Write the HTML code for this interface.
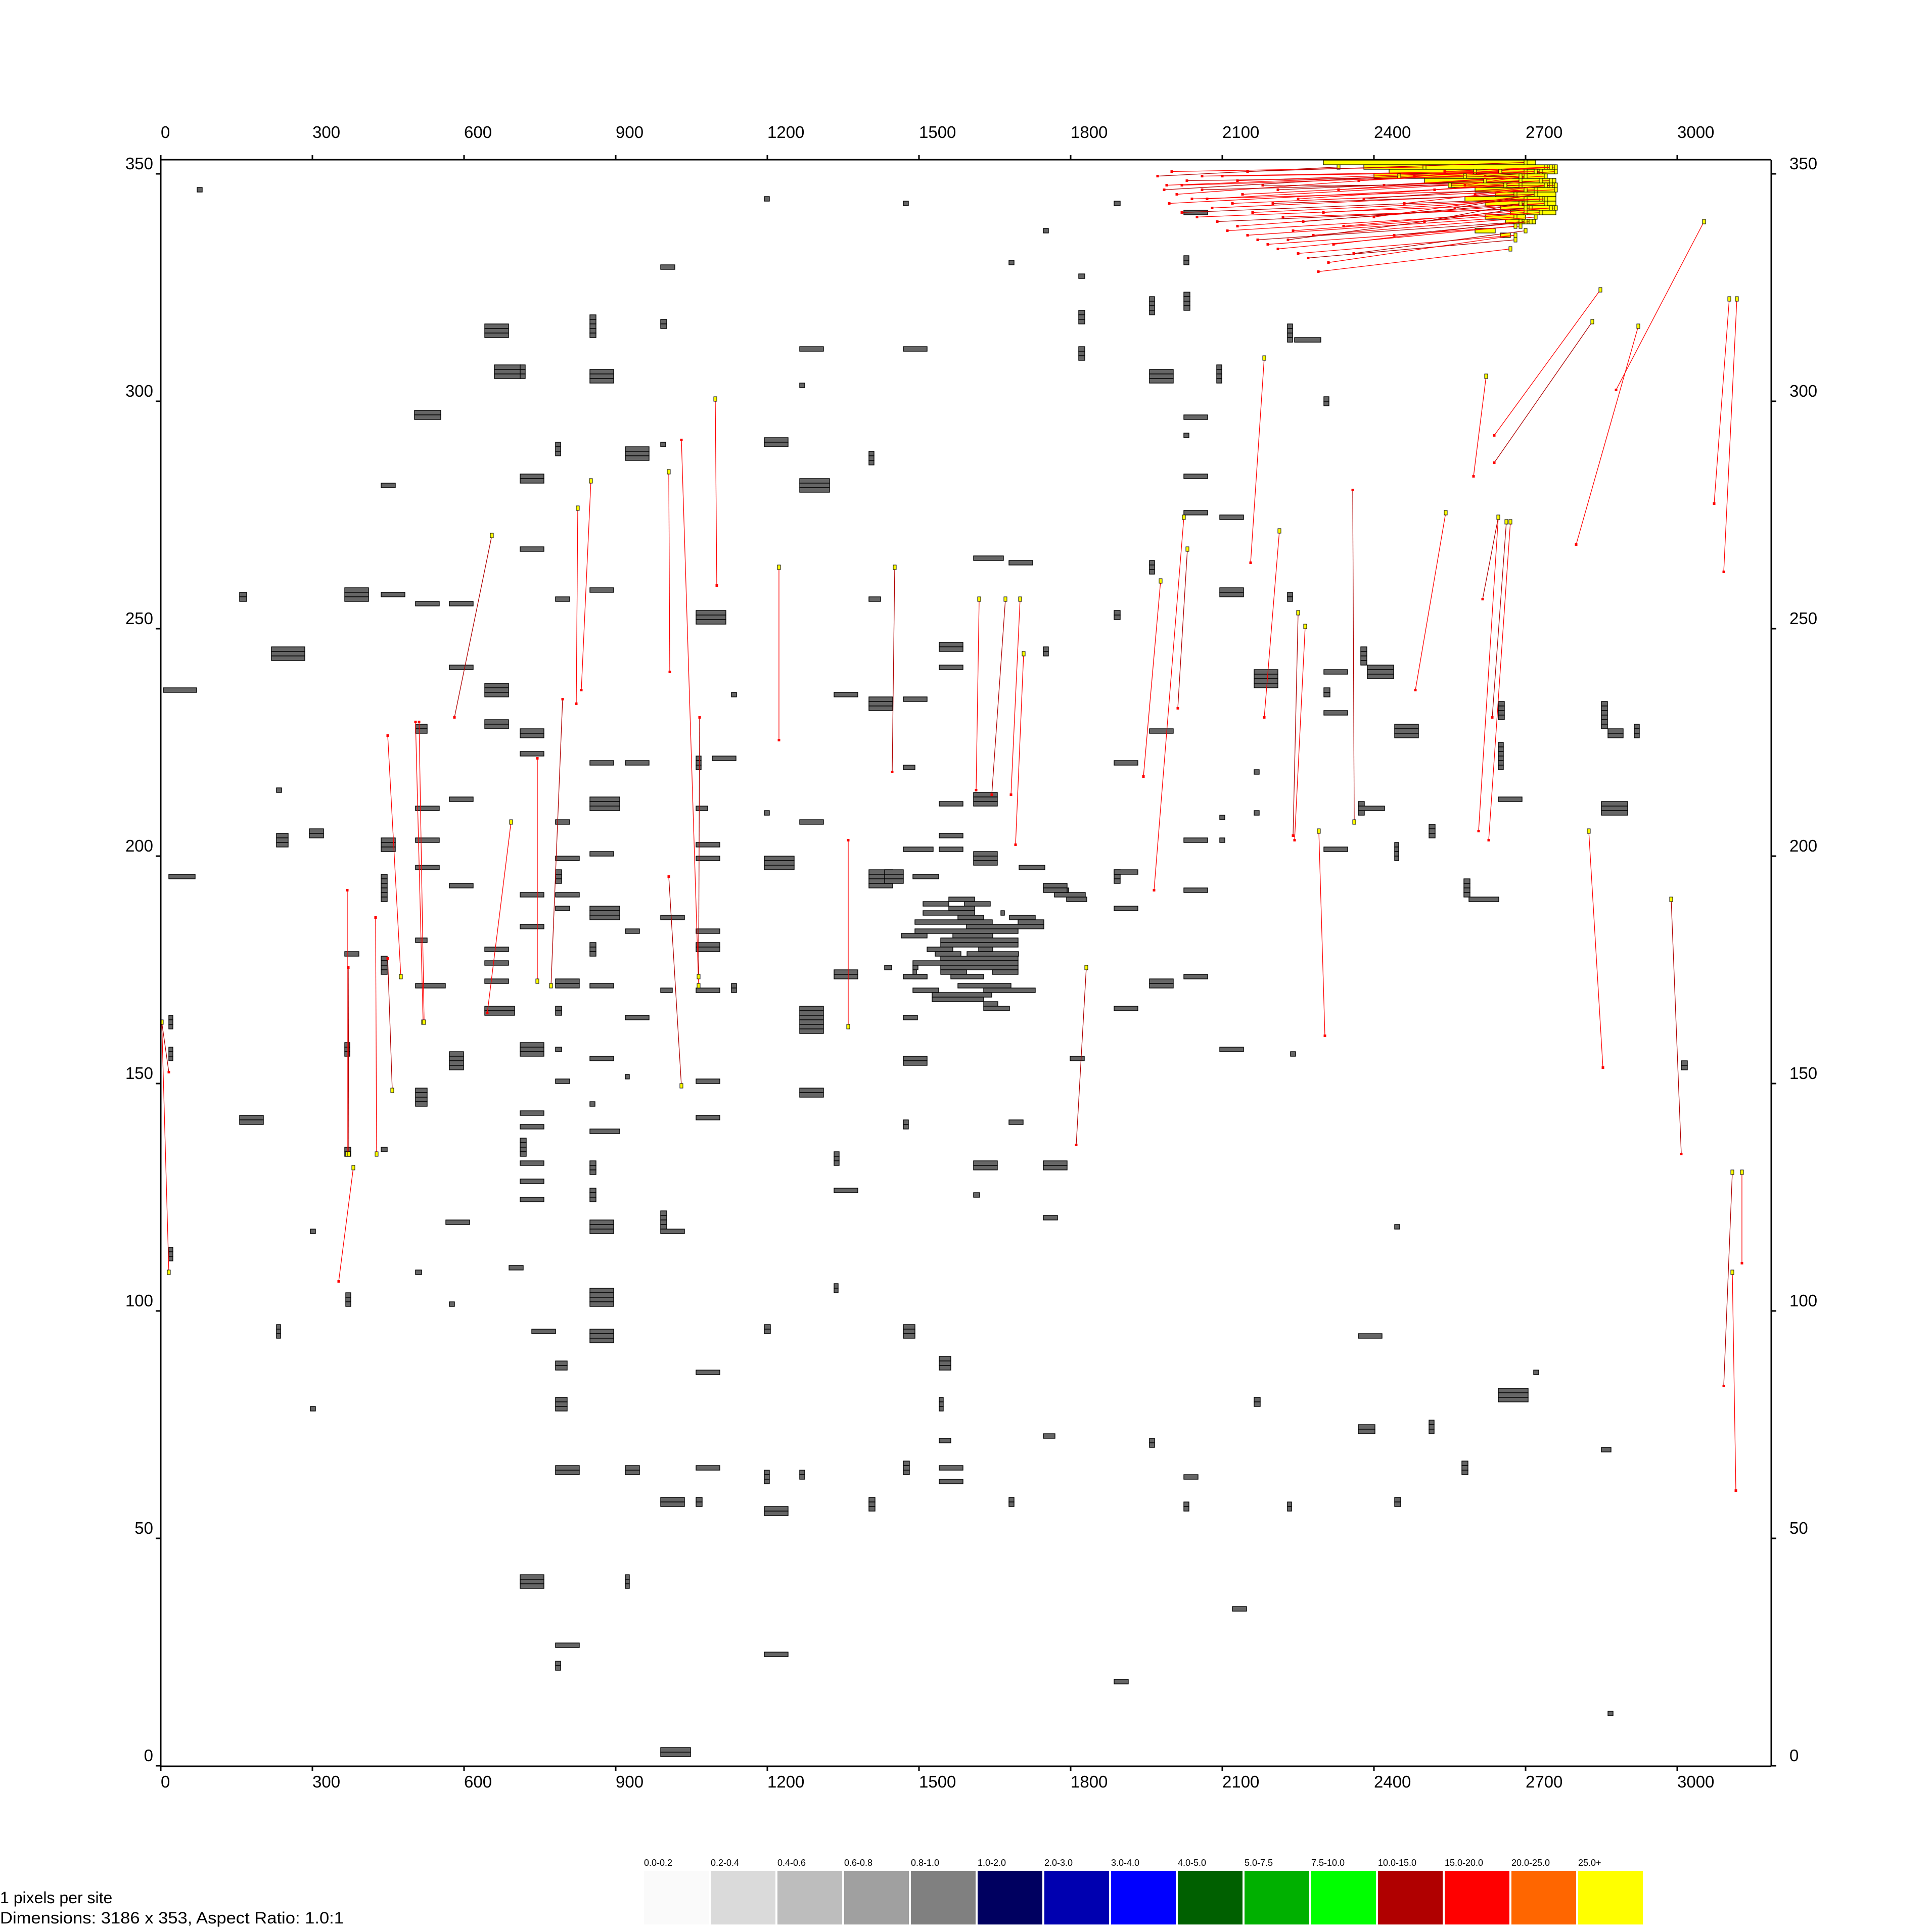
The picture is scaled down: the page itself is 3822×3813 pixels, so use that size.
<!DOCTYPE html>
<html><head><meta charset="utf-8"><style>
html,body{margin:0;padding:0;background:#fff;}
svg{display:block;font-family:"Liberation Sans",Arial,sans-serif;}
</style></head><body>
<svg id="chart" width="3822" height="3813" viewBox="0 0 3822 3813" xmlns="http://www.w3.org/2000/svg">
<rect x="0" y="0" width="3822" height="3813" fill="#fff"/>
<g id="blocks"></g>
<g id="ybars"></g>
<g id="links"></g>
<g id="axes"></g>
<g id="legend"></g>
<text x="0" y="3766" font-size="32">1 pixels  per  site</text>
<text x="0" y="3806" font-size="32" textLength="680" lengthAdjust="spacingAndGlyphs">Dimensions:  3186  x  353,  Aspect  Ratio:  1.0:1</text>
</svg>
<script>
// ---- data ----
const xTicks = [0,300,600,900,1200,1500,1800,2100,2400,2700,3000];
const yTicks = [0,50,100,150,200,250,300,350];
const xMax = 3186;
const yMax = 353;
// blocks: [x, row, width, rowsStackedDown]
const blocks = [
[72,346,10,1],[5,236,66,1],[16,195,52,1],[16,164,8,3],[16,157,8,3],[16,113,8,3],[156,257,14,2],[156,142,47,2],
[219,245,66,3],[229,214,10,1],[229,204,23,3],[294,205,28,2],[296,117,10,1],[296,78,10,1],[229,96,8,3],
[364,258,47,3],[436,257,47,1],[641,316,47,3],[660,307,52,3],[502,297,52,2],[436,281,28,1],[504,255,47,1],
[571,255,47,1],[571,241,47,1],[641,237,47,3],[641,229,47,2],[504,228,23,2],[711,227,47,2],[711,222,47,1],
[504,210,47,1],[571,212,47,1],[436,203,28,3],[504,203,47,1],[504,197,47,1],[571,193,47,1],[436,195,12,6],
[711,191,47,1],[711,184,47,1],[641,179,47,1],[641,176,47,1],[641,172,47,1],[641,166,59,2],[504,171,59,1],
[571,156,28,4],[711,158,47,3],[711,143,47,1],[711,140,47,1],[711,137,12,4],[711,132,47,1],[711,128,47,1],[711,124,47,1],
[504,148,23,4],[564,119,47,1],[689,109,28,1],[734,95,47,1],[781,88,23,2],[781,80,23,3],[781,65,47,2],
[711,41,47,3],[781,26,47,1],[781,22,10,2],[849,104,47,4],[849,95,47,3],[919,65,28,2],[919,41,8,3],
[989,58,47,2],[989,3,59,2],[989,121,12,4],[989,117,47,1],[1059,86,47,1],[1059,65,47,1],[1059,58,12,2],
[1194,64,10,3],[1194,56,47,2],[1194,24,47,1],[1194,96,12,2],[1264,64,10,2],[1332,105,8,2],[1401,58,12,3],
[1469,66,12,3],[1469,96,23,3],[1540,89,23,3],[1540,80,8,3],[1540,71,23,1],[1540,65,47,1],[1540,62,47,1],
[1678,58,10,2],[1746,72,23,1],[1886,18,28,1],[1956,71,10,2],[2024,63,28,1],[2024,57,10,2],[2120,34,28,1],
[2163,80,12,2],[2229,57,8,2],[2369,94,47,1],[2369,74,33,2],[2441,58,12,2],[2509,75,10,3],[2574,66,12,3],
[2646,82,59,3],[2716,86,10,1],[2850,69,19,1],[2863,11,10,1],[3008,154,12,2],[2850,233,12,6],[2863,227,30,2],
[2850,211,52,3],[2915,228,10,3],[2646,233,12,4],[2646,224,10,6],[2646,212,47,1],[2578,194,12,4],[2588,190,59,1],
[2509,206,12,3],[2441,228,47,3],[2441,202,8,4],[2374,245,12,4],[2387,241,52,3],[2301,240,47,1],[2301,231,47,1],
[2301,236,12,2],[2301,201,47,1],[2369,211,12,3],[2369,210,52,1],[2163,240,47,4],[2229,257,10,2],[2229,316,10,4],
[2243,313,52,1],[2089,307,10,4],[2024,283,47,1],[2024,275,47,1],[2095,274,47,1],[2095,258,47,2],[1956,306,47,3],
[1956,322,10,4],[2024,323,12,4],[2024,331,10,2],[2024,341,47,1],[1886,343,12,1],[1816,319,12,3],[1816,311,12,3],
[1746,337,10,1],[1678,330,10,1],[1608,265,59,1],[1678,264,47,1],[1540,246,47,2],[1540,241,47,1],[1746,245,10,2],
[1332,235,47,1],[1401,234,47,3],[1469,219,23,1],[1608,213,47,3],[1540,211,47,1],[1540,204,47,1],[1540,201,47,1],
[1608,200,47,3],[1469,201,59,1],[1401,196,47,4],[1264,303,10,1],[1194,344,10,1],[1469,343,10,1],
[1559,190,51,1],[1792,190,40,1],[1508,189,51,1],[1590,189,51,1],[1559,188,51,1],[1508,187,102,1],[1662,187,7,1],
[1577,186,51,1],[1679,186,51,1],[1492,185,153,1],[1696,185,51,1],[1594,184,153,1],[1492,183,204,1],[1465,182,51,1],
[1567,182,79,1],[1543,181,153,1],[1543,180,153,1],[1516,179,51,1],[1618,179,28,1],[1532,178,51,1],[1595,178,102,1],
[1543,177,153,1],[1488,176,208,1],[1432,175,14,1],[1488,175,10,1],[1543,175,153,1],[1488,174,7,1],[1543,174,51,1],
[1645,174,51,1],[1488,173,28,1],[1563,173,65,1],[1577,171,105,1],[1488,170,51,1],[1628,170,102,1],[1526,169,118,1],
[1526,168,102,1],[1628,167,28,1],[1628,166,51,1],[1698,197,51,1],[1432,196,37,3],[1488,195,51,1],[1768,192,28,1],[1768,191,61,1],
[364,178,28,1],[364,158,10,3],[364,135,12,2],[436,177,12,4],[436,135,12,1],[504,181,23,1],[849,318,12,5],[849,306,47,3],
[849,258,47,1],[781,290,10,3],[711,283,47,2],[711,267,47,1],[711,307,10,3],[781,256,28,1],[849,220,47,1],[919,220,47,1],
[849,212,59,3],[849,200,47,1],[781,207,28,1],[781,199,47,1],[781,196,12,3],[781,191,47,1],[781,188,28,1],[849,188,59,3],
[849,180,12,3],[849,171,47,1],[781,172,47,2],[781,166,12,2],[781,157,12,1],[781,150,28,1],[849,155,47,1],[849,145,10,1],
[849,139,59,1],[849,132,12,3],[849,126,12,3],[849,119,47,3],[919,164,47,1],[919,151,8,1],[919,183,28,1],[919,289,47,3],
[989,290,10,1],[989,186,47,1],[989,170,23,1],[1059,253,59,3],[1059,221,10,3],[1059,210,23,1],[1059,202,47,1],[1059,199,47,1],
[1059,183,47,1],[1059,180,47,2],[1059,170,47,1],[1059,150,47,1],[1059,142,47,1],[1129,235,10,1],[1129,171,10,2],[1091,221,47,1],
[1194,209,10,1],[1194,199,59,3],[1264,207,47,1],[1264,166,47,6],[1264,148,47,2],[1264,282,59,3],[1194,291,47,2],[1264,311,47,1],
[1469,311,47,1],[1401,288,10,3],[1401,256,23,1],[1469,234,47,1],[1469,173,47,1],[1332,174,47,2],[1332,134,10,3],[1332,126,47,1],
[1469,141,10,2],[1469,155,47,2],[1469,164,28,1],[1608,132,47,2],[1608,125,12,1],[1746,132,47,2],[1678,141,28,1],[1746,120,28,1],
[1799,155,28,1],[1746,193,47,2],[1886,196,12,3],[1886,196,47,1],[1886,188,47,1],[1886,166,47,1],[1956,172,47,2],[1956,227,47,1],
[1886,220,47,1],[1886,253,12,2],[1956,264,10,3],[2024,203,47,1],[2024,192,47,1],[2024,173,47,1],[2095,157,47,1],[2095,203,10,1],
[2235,156,10,1],[2163,218,10,1],[2441,118,10,1],[2301,300,10,2],[2024,296,47,1],[366,103,10,3],[504,108,12,1],[571,101,10,1],
[2024,292,10,1],[2163,209,10,1],[1816,327,12,1],[989,329,28,1],[989,317,12,2],[2095,208,10,1]
];
// highlight (yellow) bars near top-right: [x,row,width]
const yellowBars = [
[2300,352,420],[2380,351,380],[2430,350,330],[2400,349,340],[2500,348,260],[2550,347,210],[2600,346,160],
[2640,345,120],[2580,344,180],[2620,343,140],[2650,342,110],[2670,341,90],[2620,340,80],[2660,339,60],[2600,337,40],[2650,336,20]
];
// link lines: [x1,y1,x2,y2]
const links = [
[2,163,16,108],[16,152,2,163],[352,106,381,131],[369,192,369,134],[371,175,372,134],[425,186,427,134],[449,226,475,173],
[449,177,458,148],[504,229,519,163],[511,229,521,163],[581,230,655,270],[646,165,693,207],[745,221,745,172],[795,234,772,171],
[822,233,825,276],[832,236,851,282],[1005,195,1030,149],[1007,240,1005,284],[1030,291,1064,171],[1066,230,1064,173],[1100,259,1097,300],
[1223,225,1223,263],[1447,218,1452,263],[1360,203,1360,162],[1613,214,1619,256],[1644,213,1671,256],[1682,213,1700,256],
[1691,202,1707,244],[1811,136,1831,175],[1944,217,1978,260],[1965,192,2024,274],[2012,232,2031,267],[2156,264,2183,309],
[2183,230,2213,271],[2240,204,2250,253],[2243,203,2264,250],[2303,160,2291,205],[2358,280,2361,207],[2482,236,2542,275],
[2597,283,2622,305],[2615,256,2646,274],[2607,205,2646,274],[2627,203,2670,273],[2634,230,2662,273],[2800,268,2923,316],
[2638,292,2848,324],[2638,286,2832,317],[2879,302,3053,339],[2853,153,2825,205],[3008,134,2988,190],[3073,277,3103,322],
[3092,262,3118,322],[3092,83,3109,130],[3116,60,3109,108],[3128,110,3128,130],
[1972,349,2330,351],[1990,347,2700,350],[2010,345,2740,351],[2030,348,2700,349],[1995,343,2690,347],[2040,344,2720,346],
[2060,346,2750,348],[2080,342,2680,345],[2100,349,2730,350],[2020,341,2700,344],[2050,340,2740,343],[2120,343,2760,346],
[2090,339,2710,342],[2140,345,2690,348],[2160,341,2730,344],[2180,347,2750,347],[2110,337,2700,341],[2130,338,2740,343],
[2200,343,2720,345],[2150,336,2680,340],[2220,340,2760,342],[2170,335,2700,339],[2240,337,2730,341],[2190,334,2690,338],
[2260,339,2700,343],[2210,333,2680,338],[2280,336,2720,340],[2230,335,2700,342],[2300,341,2740,344],[2250,332,2680,336],
[2270,331,2680,335],[2320,334,2690,339],[2340,338,2750,342],[2360,332,2700,337],[2310,330,2680,336],[2290,328,2670,333],
[2380,344,2760,347],[2400,340,2720,345],[2420,347,2740,349],[2440,336,2710,339],[2460,343,2700,346],[2480,349,2760,351],
[2500,339,2690,343],[2520,346,2730,348],[2540,350,2750,351],[2560,342,2720,345],[2580,347,2700,349],[2600,345,2740,347],
[2620,349,2760,350],[2000,350,2500,351],[2060,349,2600,350],[1985,346,2450,349],[2070,344,2550,347],[2130,348,2650,350],
[2210,346,2620,348],[2250,344,2660,347],[2020,347,2580,349],[2150,350,2700,352],[2330,346,2690,349],[2370,348,2720,350]
];
const legendLabels = ["0.0-0.2","0.2-0.4","0.4-0.6","0.6-0.8","0.8-1.0","1.0-2.0","2.0-3.0","3.0-4.0","4.0-5.0","5.0-7.5","7.5-10.0","10.0-15.0","15.0-20.0","20.0-25.0","25.0+"];
const legendColors = ["#fafafa","#dadada","#bdbdbd","#a0a0a0","#808080","#000060","#0000b0","#0000ff","#006000","#00b000","#00ff00","#b00000","#ff0000","#ff6600","#ffff00"];

// ---- scales ----
const X0 = 318, Y0 = 3494, RH = 9;
function sx(v){ return X0 + v; }
function rowTop(v){ return Y0 - RH*(v+1); }
function sy(v){ return Y0 - RH*v - RH/2; }
const NS = "http://www.w3.org/2000/svg";
function mk(tag, attrs, parent){
  const e = document.createElementNS(NS, tag);
  for (const k in attrs) e.setAttribute(k, attrs[k]);
  parent.appendChild(e);
  return e;
}
const gB = document.getElementById('blocks');
blocks.forEach(function(b){
  for (let r = 0; r < b[3]; r++){
    const el = mk('rect', {x: sx(b[0]), y: rowTop(b[1]-r), width: b[2], height: RH, fill:'#666', stroke:'#000', 'stroke-width':1.4}, gB);
    
    
  }
});
const gY = document.getElementById('ybars');
yellowBars.forEach(function(b){
  const el = mk('rect', {x: sx(b[0]), y: rowTop(b[1]), width: b[2], height: RH, fill:'#ffff00', stroke:'#000', 'stroke-width':1.2}, gY);
  
  
});
const gL = document.getElementById('links');
links.forEach(function(l, i){
  const ln = mk('line', {x1: sx(l[0]), y1: sy(l[1]), x2: sx(l[2]), y2: sy(l[3]), stroke: (i%3===1)?'#b00000':'#ff0000', 'stroke-width':1.3}, gL);
  
  
  const p = mk('rect', {x: sx(l[0])-2.5, y: sy(l[1])-2.5, width:5, height:5, fill:'#ff0000'}, gL);
  
  
  const m = mk('rect', {x: sx(l[2])-3, y: rowTop(l[3]), width:6, height:RH, fill:'#ffff00', stroke:'#000', 'stroke-width':1}, gL);
  
  
});
// ---- axes ----
const gA = document.getElementById('axes');
const plotTop = 316, plotBot = 3495, plotRight = X0 + xMax;
[[X0,plotTop,X0,plotBot],[X0,plotTop,plotRight,plotTop],[X0,plotBot,plotRight,plotBot],[plotRight,plotTop,plotRight,plotBot]].forEach(function(s){
  const el = mk('line', {x1:s[0], y1:s[1], x2:s[2], y2:s[3], stroke:'#000', 'stroke-width':3}, gA);
  
  
});
xTicks.forEach(function(t){
  const x = sx(t);
  let e = mk('line', {x1:x, y1:plotTop-9, x2:x, y2:plotTop, stroke:'#000', 'stroke-width':3}, gA);
  
  
  e = mk('line', {x1:x, y1:plotBot, x2:x, y2:plotBot+9, stroke:'#000', 'stroke-width':3}, gA);
  
  
  e = mk('text', {x:x, y:273, 'font-size':33, 'text-anchor':'start'}, gA);
  e.textContent = t;
  
  
  e = mk('text', {x:x, y:3537, 'font-size':33, 'text-anchor':'start'}, gA);
  e.textContent = t;
  
  
});
yTicks.forEach(function(t){
  const y = Y0 - RH*t;
  let e = mk('line', {x1:X0-10, y1:y, x2:X0, y2:y, stroke:'#000', 'stroke-width':3}, gA);
  
  
  e = mk('line', {x1:plotRight, y1:y, x2:plotRight+10, y2:y, stroke:'#000', 'stroke-width':3}, gA);
  
  
  e = mk('text', {x:303, y:y-9, 'font-size':33, 'text-anchor':'end'}, gA);
  e.textContent = t;
  
  
  e = mk('text', {x:plotRight+36, y:y-9, 'font-size':33, 'text-anchor':'start'}, gA);
  e.textContent = t;
  
  
});
// ---- legend ----
const gG = document.getElementById('legend');
legendLabels.forEach(function(lab, i){
  const x = 1274 + i*132;
  const r = mk('rect', {x:x, y:3702, width:128, height:106, fill:legendColors[i]}, gG);
  
  
  const t = mk('text', {x:x, y:3692, 'font-size':18}, gG);
  t.textContent = lab;
  
  
});
</script>
</body></html>
